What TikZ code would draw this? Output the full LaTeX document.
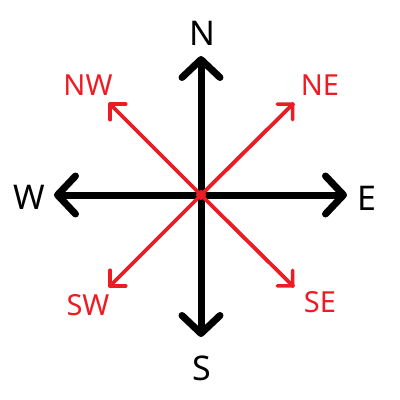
\documentclass[tikz,border=0pt]{standalone}
\usepackage{fontspec}
\setmainfont{Noto Sans}
\usetikzlibrary{arrows.meta}
\definecolor{cred}{RGB}{237,28,36}
\begin{document}
\begin{tikzpicture}[x=1pt,y=-1pt,
  blk/.style={line width=7pt,black,-{Straight Barb[length=18pt,width=38pt,round]}},
  redarr/.style={line width=3.5pt,cred,-{Straight Barb[length=11pt,width=22pt,round]}},
  blab/.style={font=\fontsize{34}{34}\selectfont,text=black,inner sep=0pt},
  rlab/.style={font=\fontsize{29}{29}\selectfont,text=cred,inner sep=0pt}]
\useasboundingbox (0,0) rectangle (400,400);
\fill[white] (0,0) rectangle (400,400);
\coordinate (c) at (201,195);
\coordinate (n) at (201,56);
\coordinate (s) at (201,337);
\coordinate (w) at (54,195);
\coordinate (e) at (347,195);
\coordinate (ne) at (294,103);
\coordinate (nw) at (109,103);
\coordinate (sw) at (109,287);
\coordinate (se) at (294,287);
\draw[redarr] (c) -- (ne);
\draw[redarr] (c) -- (nw);
\draw[redarr] (c) -- (sw);
\draw[redarr] (c) -- (se);
\draw[blk] (c) -- (n);
\draw[blk] (c) -- (s);
\draw[blk] (c) -- (w);
\draw[blk] (c) -- (e);
\draw[redarr,-] (c) -- (ne);
\draw[redarr,-] (c) -- (nw);
\draw[redarr,-] (c) -- (sw);
\draw[redarr,-] (c) -- (se);
\fill[cred] (c) circle (5);
\node[blab] (ln) at (202,33) {N};
\node[blab] (ls) at (202,368) {S};
\node[blab] (lw) at (29,197) {W};
\node[blab] (le) at (367,198) {E};
\node[rlab] (lne) at (320,85) {NE};
\node[rlab] (lnw) at (88,85) {NW};
\node[rlab] (lsw) at (88,305) {SW};
\node[rlab] (lse) at (320,302) {SE};
\end{tikzpicture}
\end{document}
